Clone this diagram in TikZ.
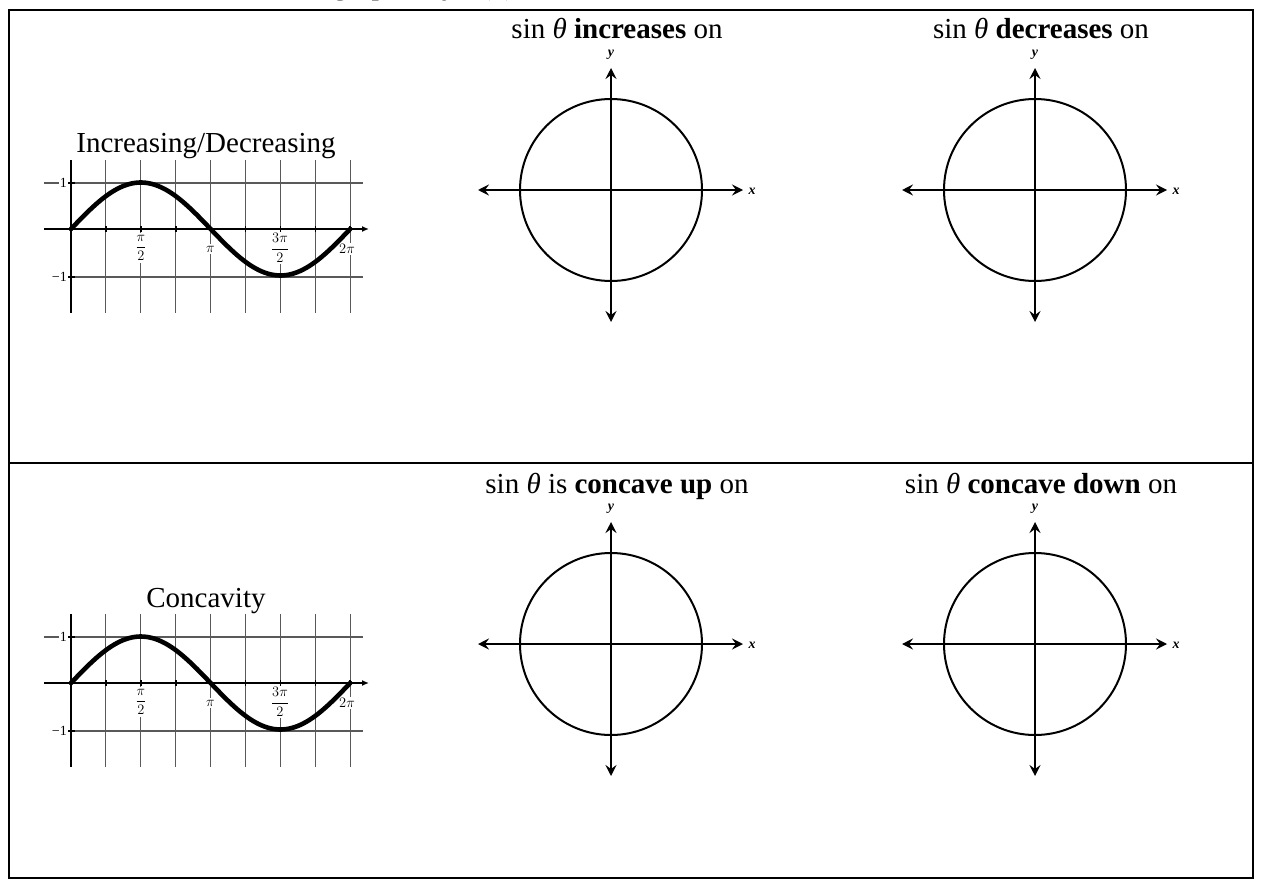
\documentclass[tikz,border=0pt]{standalone}
\usepackage{fontspec}
\setmainfont{Liberation Serif}
\usetikzlibrary{arrows.meta}
\begin{document}
\begin{tikzpicture}[x=1pt,y=-1pt,
  frame/.style={line width=2.6pt},
  gridln/.style={line width=1.1pt, black!65},
  gaxis/.style={line width=2.4pt},
  curve/.style={line width=4.6pt, line cap=round},
  circax/.style={line width=2.2pt, {Stealth[length=11pt,width=11pt,inset=4pt]}-{Stealth[length=11pt,width=11pt,inset=4pt]}},
  circ/.style={line width=2pt},
  ttl/.style={font=\fontsize{29}{33}\selectfont, anchor=base, inner sep=0pt},
  axlab/.style={font=\fontsize{14}{16}\selectfont\bfseries\itshape, inner sep=0pt},
  glab/.style={font=\fontsize{14}{15}\selectfont, fill=white, inner sep=2pt},
  ylab/.style={font=\fontsize{14}{15}\selectfont, anchor=east, fill=white, inner sep=1pt}
]
\useasboundingbox (0,0) rectangle (1263,880);

% cut-off heading at the very top
\node[font=\fontsize{30}{34}\selectfont, anchor=base west, inner sep=0pt] (head) at (333,-5) {graph of y\hspace{24pt}(x)};

% table frame
\coordinate (tl) at (9,10);
\coordinate (br) at (1253,878);
\coordinate (ml) at (9,463);
\coordinate (mr) at (1253,463);
\draw[frame] (tl) rectangle (br);
\draw[frame] (ml) -- (mr);

% sine graphs
\foreach \dy/\lab/\n in {0/{Increasing/Decreasing}/A, 454/{Concavity}/B}{
  \begin{scope}[shift={(0,\dy)}]
    \node[ttl] (gt\n) at (206,153) {\lab};
    \foreach \k in {1,...,8}{
      \coordinate (vt\n\k) at ({71+34.9*\k},160);
      \coordinate (vb\n\k) at ({71+34.9*\k},313);
      \draw[gridln] (vt\n\k) -- (vb\n\k);
    }
    \coordinate (h1l\n) at (44,183); \coordinate (h1r\n) at (363,183);
    \coordinate (h2l\n) at (44,277); \coordinate (h2r\n) at (363,277);
    \draw[gridln] (h1l\n) -- (h1r\n);
    \draw[gridln] (h2l\n) -- (h2r\n);
    \node[ylab] (p1\n) at (68,183) {1};
    \node[ylab, minimum width=24pt, align=right, text width=22pt] (m1\n) at (68,277) {−1};
    \coordinate (xo\n) at (44,229); \coordinate (xe\n) at (369,229);
    \draw[gaxis, -{Latex[length=7pt,width=6pt]}] (xo\n) -- (xe\n);
    \coordinate (yt\n) at (71,160); \coordinate (yb\n) at (71,313);
    \draw[gaxis] (yt\n) -- (yb\n);
    \foreach \k in {1,...,8}{
      \draw[line width=1.6pt] ({71+34.9*\k},226) -- ({71+34.9*\k},232);
    }
    \draw[line width=1.4pt] (68,183) -- (75,183);
    \draw[line width=1.4pt] (68,277) -- (75,277);
    \node[glab] (lpi2\n) at (141,248) {$\displaystyle\frac{\pi}{2}$};
    \node[glab] (lpi\n) at (210.5,249) {$\pi$};
    \node[glab] (l3pi\n) at (280,248) {$\displaystyle\frac{3\pi}{2}$};
    \node[glab, inner sep=1pt] (l2pi\n) at (347,249) {$2\pi$};
    \draw[curve] plot[domain=0:360, samples=90, smooth] ({71+0.77556*\x},{229-46.5*sin(\x)});
  \end{scope}
}

% unit circles
\foreach \cx/\cy/\t/\n in {
  611/190/{sin \textit{θ} \textbf{increases} on}/a,
  1035/190/{sin \textit{θ} \textbf{decreases} on}/b,
  611/644/{sin \textit{θ} is \textbf{concave up} on}/c,
  1035/644/{sin \textit{θ} \textbf{concave down} on}/d}{
  \node[ttl] (t\n) at ({\cx+6},{\cy-151}) {\t};
  \node[circ, draw, circle, minimum size=182pt, inner sep=0pt] (c\n) at (\cx,\cy) {};
  \coordinate (xl\n) at ({\cx-133},\cy);
  \coordinate (xr\n) at ({\cx+132},\cy);
  \coordinate (yu\n) at (\cx,{\cy-122});
  \coordinate (yd\n) at (\cx,{\cy+132});
  \draw[circax] (xl\n) -- (xr\n);
  \draw[circax] (yd\n) -- (yu\n);
  \node[axlab] (x\n) at ({\cx+141},{\cy+1}) {x};
  \node[axlab] (y\n) at (\cx,{\cy-135}) {y};
}
\end{tikzpicture}
\end{document}
